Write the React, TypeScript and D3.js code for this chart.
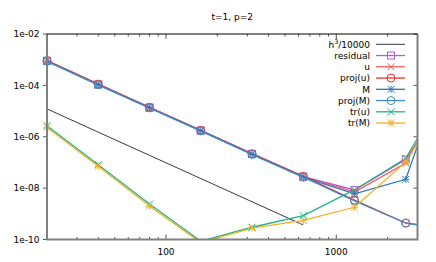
import React from "react";
import * as d3 from "d3";

// grid sizes and the error series
const sizes = [20, 40, 80, 160, 320, 640, 1280, 2560, 5120];
const h3Sizes = [20, 40, 80, 160, 320, 640];
const h3Ref = [1.21e-5, 1.51e-6, 1.89e-7, 2.36e-8, 2.95e-9, 3.68e-10];
const residual = [9.0e-4, 1.08e-4, 1.36e-5, 1.73e-6, 2.12e-7, 2.8e-8, 8.5e-9, 1.3e-7, 1.3e-4];
const uErr = [9.3e-4, 1.12e-4, 1.41e-5, 1.79e-6, 2.2e-7, 2.9e-8, 7.0e-9, 9.5e-8, 3.9e-4];
const projU = [9.3e-4, 1.12e-4, 1.41e-5, 1.79e-6, 2.2e-7, 2.85e-8, 3.4e-9, 4.4e-10, 2.3e-10];
const mErr = [8.7e-4, 1.05e-4, 1.32e-5, 1.69e-6, 2.06e-7, 2.7e-8, 6.0e-9, 2.2e-8, 1.1e-2];
const projM = [8.7e-4, 1.05e-4, 1.32e-5, 1.69e-6, 2.06e-7, 2.65e-8, 3.2e-9, 4.3e-10, 2.2e-10];
const trU = [2.7e-6, 8.2e-8, 2.4e-9, 8.6e-11, 3.0e-10, 8.5e-10, 8.5e-9, 1.45e-7, 3.6e-4];
const trM = [2.3e-6, 7.1e-8, 2.0e-9, 7.5e-11, 2.8e-10, 5.5e-10, 1.8e-9, 1.05e-7, 1.4e-4];

const yTickValues = [1e-2, 1e-4, 1e-6, 1e-8, 1e-10];
const yTickLabels = ["1e-02", "1e-04", "1e-06", "1e-08", "1e-10"];
const xTickValues = [100, 1000];
const xTickLabels = ["100", "1000"];

type Marker = "none" | "square" | "cross" | "circle" | "star";

const series: { name: string; color: string; marker: Marker; values: number[] }[] = [
  { name: "residual", color: "#b05ce0", marker: "square", values: residual },
  { name: "u", color: "#f25a52", marker: "cross", values: uErr },
  { name: "proj(u)", color: "#e8342c", marker: "circle", values: projU },
  { name: "M", color: "#2a78bc", marker: "star", values: mErr },
  { name: "proj(M)", color: "#3a8ed2", marker: "circle", values: projM },
  { name: "tr(u)", color: "#22b386", marker: "cross", values: trU },
  { name: "tr(M)", color: "#f2b024", marker: "star", values: trM },
];

const W = 436;
const H = 262;
const left = 47;
const right = 417.5;
const top = 34;
const bottom = 239.5;
const font = "DejaVu Sans, sans-serif";

const x = d3.scaleLog().domain([20, 3000]).range([left, right]);
const y = d3.scaleLog().domain([1e-10, 1e-2]).range([bottom, top]);

function MarkerShape({ kind, cx, cy, color }: { kind: Marker; cx: number; cy: number; color: string }) {
  const s = 3.5;
  if (kind === "square")
    return <rect x={cx - s} y={cy - s} width={2 * s} height={2 * s} fill="none" stroke={color} strokeWidth={1} />;
  if (kind === "circle") return <circle cx={cx} cy={cy} r={4} fill="none" stroke={color} strokeWidth={1} />;
  const crossD = `M${cx - s},${cy - s}L${cx + s},${cy + s}M${cx - s},${cy + s}L${cx + s},${cy - s}`;
  if (kind === "cross") return <path d={crossD} stroke={color} strokeWidth={1} fill="none" />;
  if (kind === "star")
    return (
      <path
        d={`${crossD}M${cx - s},${cy}L${cx + s},${cy}M${cx},${cy - s}L${cx},${cy + s}`}
        stroke={color}
        strokeWidth={1}
        fill="none"
      />
    );
  return null;
}

export default function App() {
  const line = d3
    .line<[number, number]>()
    .x((d) => x(d[0]))
    .y((d) => y(d[1]));

  const minor: number[] = [];
  [10, 100, 1000].forEach((dec) => {
    for (let k = 2; k <= 9; k++) {
      const v = dec * k;
      if (v > 20 && v < 3000) minor.push(v);
    }
  });

  const inside = (n: number, v: number) => n >= 20 && n <= 3000 && v >= 1e-10 && v <= 1e-2;
  const legendY = (i: number) => 44.3 + i * 11.25;

  return (
    <svg width={W} height={H} style={{ position: "absolute", left: 0, top: 0, background: "#fff" }}>
      <defs>
        <clipPath id="plot">
          <rect x={left} y={top} width={right - left} height={bottom - top} />
        </clipPath>
      </defs>

      <text x={(left + right) / 2} y={20} textAnchor="middle" fontFamily={font} fontSize={9} fill="#000">
        t=1, p=2
      </text>

      {/* x ticks */}
      {minor.map((v) => (
        <g key={"m" + v} stroke="#555" strokeWidth={1}>
          <line x1={x(v)} x2={x(v)} y1={bottom} y2={bottom - 2.5} />
          <line x1={x(v)} x2={x(v)} y1={top} y2={top + 2.5} />
        </g>
      ))}
      {xTickValues.map((v, i) => (
        <g key={"x" + v}>
          <line x1={x(v)} x2={x(v)} y1={bottom} y2={bottom - 5} stroke="#555" />
          <line x1={x(v)} x2={x(v)} y1={top} y2={top + 5} stroke="#555" />
          <text x={x(v)} y={255} textAnchor="middle" fontFamily={font} fontSize={9} fill="#000">
            {xTickLabels[i]}
          </text>
        </g>
      ))}

      {/* y ticks */}
      {yTickValues.map((v, i) => (
        <g key={"y" + v}>
          <line x1={left - 4} x2={left} y1={y(v)} y2={y(v)} stroke="#555" />
          <line x1={right - 4} x2={right} y1={y(v)} y2={y(v)} stroke="#555" />
          <text x={39.5} y={y(v) + 3.3} textAnchor="end" fontFamily={font} fontSize={9} fill="#000">
            {yTickLabels[i]}
          </text>
        </g>
      ))}

      <g clipPath="url(#plot)" fill="none">
        <path d={line(h3Sizes.map((n, i) => [n, h3Ref[i]]) as [number, number][]) || ""} stroke="#3a3a3a" strokeWidth={1} />
        {series.map((s) => (
          <path
            key={s.name}
            d={line(sizes.map((n, i) => [n, s.values[i]]) as [number, number][]) || ""}
            stroke={s.color}
            strokeWidth={1.3}
          />
        ))}
      </g>

      {series.map((s) =>
        sizes.map((n, i) =>
          inside(n, s.values[i]) ? (
            <MarkerShape key={s.name + n} kind={s.marker} cx={x(n)} cy={y(s.values[i])} color={s.color} />
          ) : null
        )
      )}

      {/* border */}
      <path d={`M${left},${top}V${bottom}H${right}V${top}`} fill="none" stroke="#808080" strokeWidth={2} />
      <line x1={left} x2={right} y1={top} y2={top} stroke="#000" strokeWidth={1} />

      {/* legend */}
      <g fontFamily={font} fontSize={9} fill="#000">
        <text x={370} y={legendY(0) + 3.3} textAnchor="end">
          h<tspan dy={-3.5} fontSize={6.5}>3</tspan>
          <tspan dy={3.5}>/10000</tspan>
        </text>
        <line x1={376} x2={405} y1={legendY(0)} y2={legendY(0)} stroke="#3a3a3a" strokeWidth={1} />
        {series.map((s, i) => (
          <g key={"l" + s.name}>
            <text x={370} y={legendY(i + 1) + 3.3} textAnchor="end">
              {s.name}
            </text>
            <line x1={376} x2={405} y1={legendY(i + 1)} y2={legendY(i + 1)} stroke={s.color} strokeWidth={1.3} />
            <MarkerShape kind={s.marker} cx={391} cy={legendY(i + 1)} color={s.color} />
          </g>
        ))}
      </g>
    </svg>
  );
}
